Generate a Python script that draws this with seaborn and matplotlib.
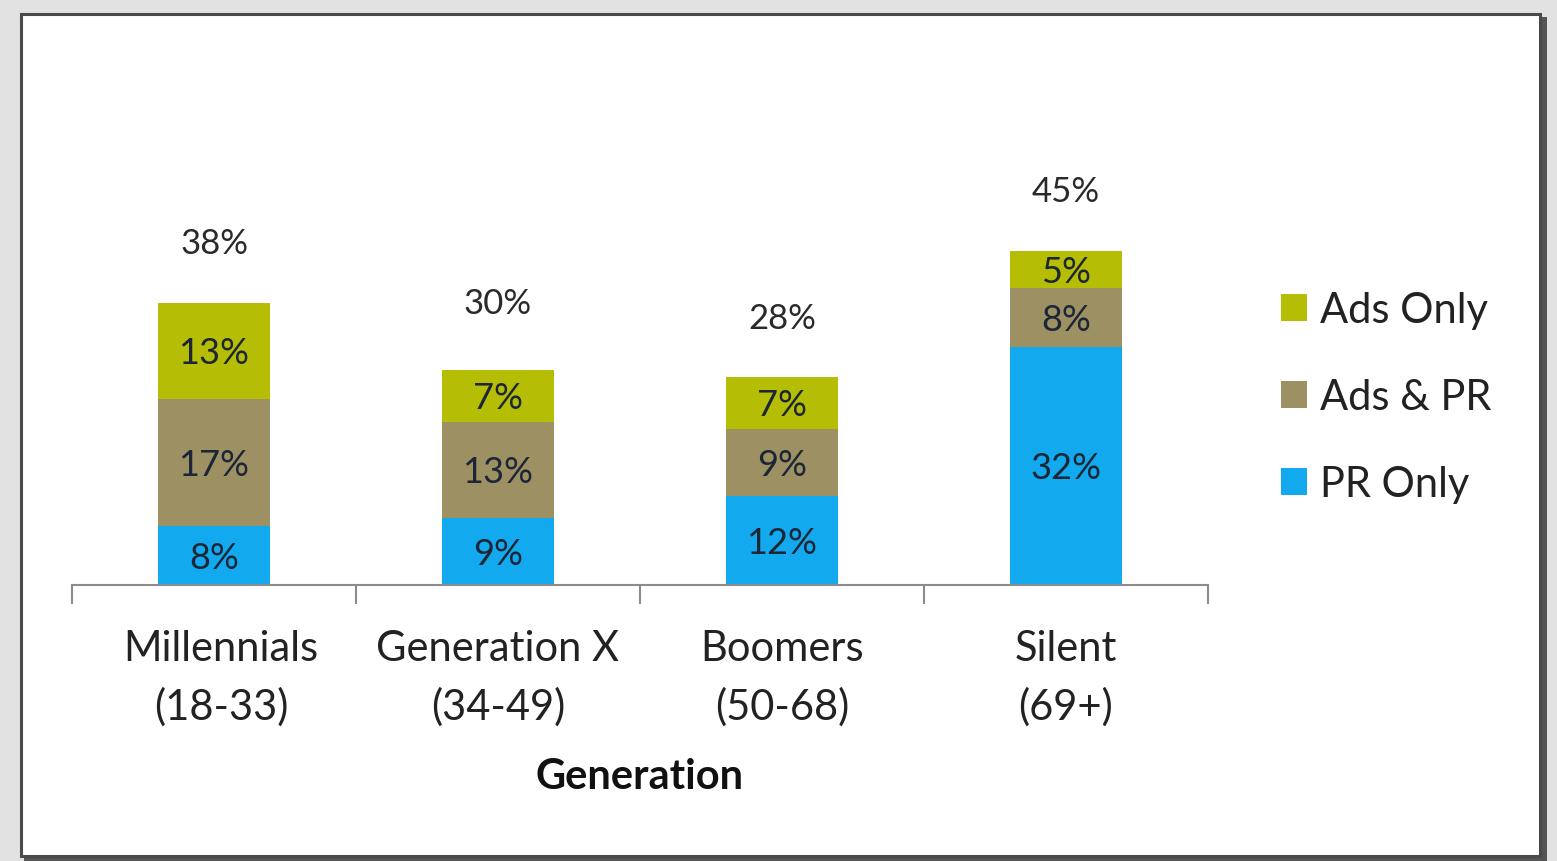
import matplotlib
matplotlib.use("Agg")
import matplotlib.pyplot as plt
from matplotlib.patches import Rectangle
import seaborn as sns
import numpy as np

categories = ["Millennials\n(18-33)", "Generation X\n(34-49)", "Boomers\n(50-68)", "Silent\n(69+)"]
pr_only = [8, 9, 12, 32]
ads_pr = [17, 13, 9, 8]
ads_only = [13, 7, 7, 5]
totals = [38, 30, 28, 45]
series_names = ["PR Only", "Ads & PR", "Ads Only"]
colors = ["#12A9EE", "#9D9062", "#B5BE05"]

sns.set_theme(style="white")
plt.rcParams["font.family"] = ["Lato", "DejaVu Sans"]

W, H = 1557, 862
fig = plt.figure(figsize=(W / 100, H / 100), dpi=100)
fig.patch.set_facecolor("white")

# frame
fig.patches.append(Rectangle((0, 0), 1, 1, transform=fig.transFigure, facecolor="#e2e2e2", edgecolor="none", zorder=-4))
fig.patches.append(Rectangle((24 / W, 1 - 862 / H), (1547 - 24) / W, (862 - 18) / H, transform=fig.transFigure,
                             facecolor="#555555", edgecolor="none", zorder=-3))
fig.patches.append(Rectangle((21 / W, 1 - 857 / H), (1540 - 21) / W, (857 - 15) / H, transform=fig.transFigure,
                             facecolor="white", edgecolor="#4a4a4a", linewidth=2.2, zorder=-2))

base_y = 586
ppu = 7.43
top_y = 100
ax = fig.add_axes([72 / W, 1 - base_y / H, (1208 - 72) / W, (base_y - top_y) / H])
ymax = (base_y - top_y) / ppu

bottoms = np.zeros(len(categories))
layers = [pr_only, ads_pr, ads_only]
for name, vals, col in zip(series_names, layers, colors):
    sns.barplot(x=categories, y=vals, bottom=bottoms, color=col, width=0.395, ax=ax,
                saturation=1, label=name, edgecolor="none", linewidth=0)
    for i, v in enumerate(vals):
        ax.text(i, bottoms[i] + v / 2 - 0.25, f"{v}%", ha="center", va="center", fontsize=26, color="#1c2636")
    bottoms = bottoms + np.array(vals)

for i, t in enumerate(totals):
    ax.text(i, t + 8, f"{t}%", ha="center", va="center", fontsize=25, color="#2a2a2a")

ax.set_xlim(-0.5, 3.5)
ax.set_ylim(0, ymax)
ax.set_yticks([])
for s in ["top", "left", "right"]:
    ax.spines[s].set_visible(False)
ax.spines["bottom"].set_color("#8c8c8c")
ax.spines["bottom"].set_linewidth(1.5)
ax.set_xticks([-0.5, 0.5, 1.5, 2.5, 3.5])
ax.set_xticklabels([])
ax.tick_params(axis="x", which="major", direction="out", length=14, width=1.5, color="#8c8c8c", bottom=True)
for i, c in enumerate(categories):
    ax.text(i + (0.025 if i == 0 else 0.0), -12.4, c, ha="center", va="center", fontsize=30, color="#222222",
            linespacing=1.6)
ax.set_xlabel("")
ax.text(1.5, -25.7, "Generation", ha="center", va="center", fontsize=30, fontweight="bold", color="#111111")

handles, labels = ax.get_legend_handles_labels()
leg = ax.legend(handles[::-1], labels[::-1], loc="upper left",
                bbox_to_anchor=((1281 - 72) / (1208 - 72), (base_y - 292) / (base_y - top_y)),
                frameon=False, fontsize=30, handlelength=0.62, handleheight=0.62, handletextpad=0.32,
                labelspacing=1.18, borderpad=0, borderaxespad=0)
for t in leg.get_texts():
    t.set_color("#222222")

fig.savefig("out.png", dpi=100)
